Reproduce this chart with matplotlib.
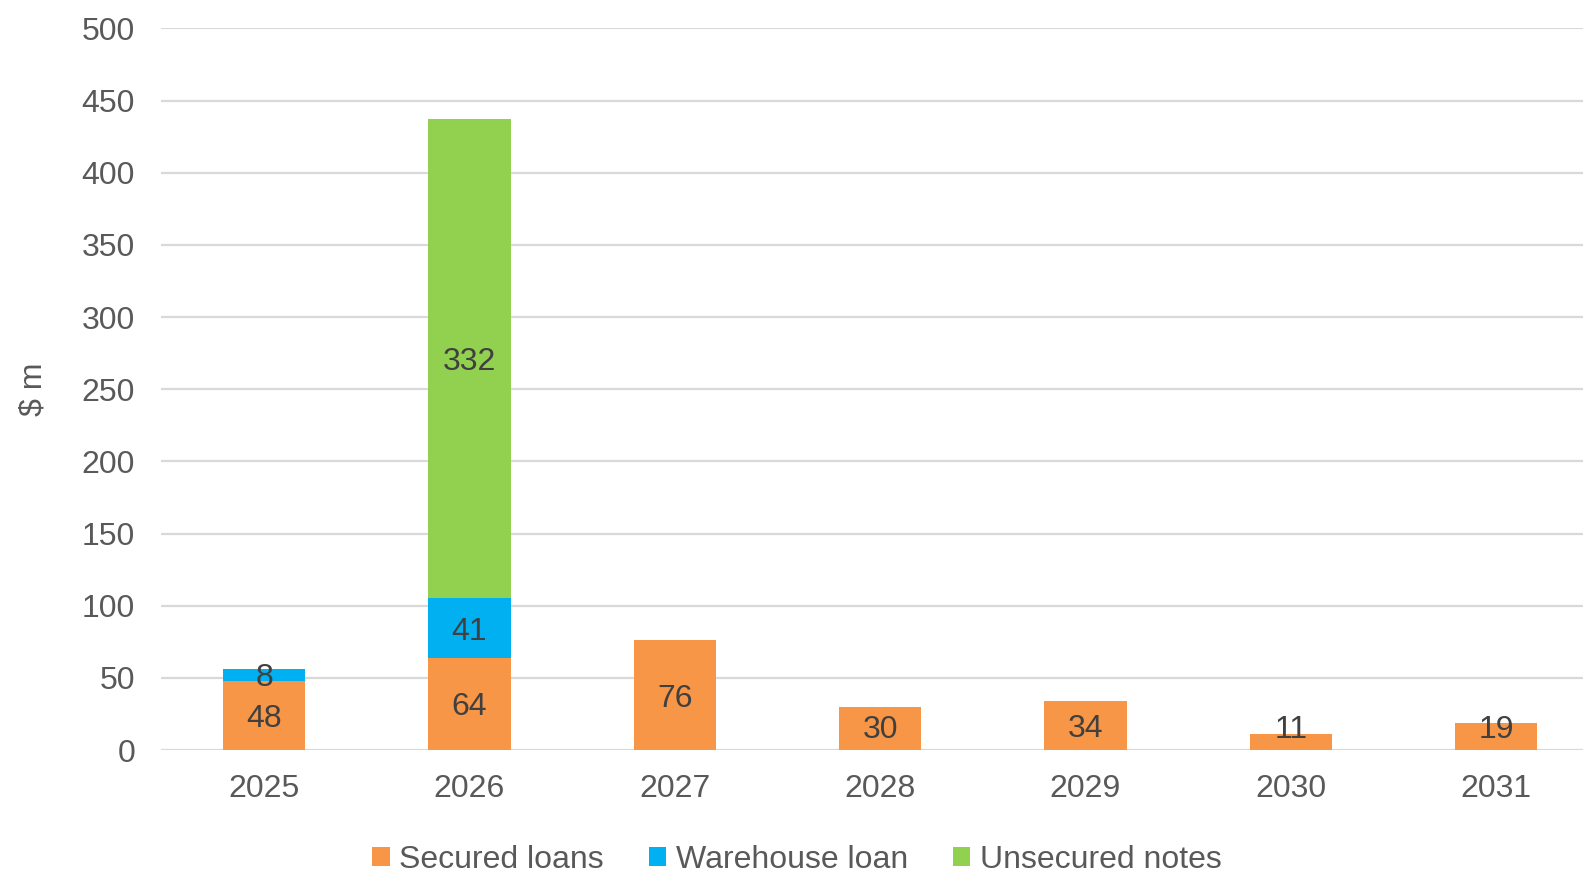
import matplotlib.pyplot as plt
import numpy as np

plt.rcParams['font.family'] = ['Liberation Sans', 'DejaVu Sans']

# data
years = ['2025', '2026', '2027', '2028', '2029', '2030', '2031']
secured = [48, 64, 76, 30, 34, 11, 19]
warehouse = [8, 41, 0, 0, 0, 0, 0]
unsecured = [0, 332, 0, 0, 0, 0, 0]
y_ticks = [0, 50, 100, 150, 200, 250, 300, 350, 400, 450, 500]

colors = ['#F79646', '#00B0F0', '#92D050']
names = ['Secured loans', 'Warehouse loan', 'Unsecured notes']

fig = plt.figure(figsize=(15.83, 8.72), dpi=100)
ax = fig.add_axes([0.1020, 0.1399, 0.9080, 0.8276])

x = np.arange(len(years))
sec = np.array(secured)
war = np.array(warehouse)
uns = np.array(unsecured)

# stack the three series
b1 = ax.bar(x, sec, width=0.4, color=colors[0], label=names[0], zorder=2)
b2 = ax.bar(x, war, width=0.4, bottom=sec, color=colors[1], label=names[1], zorder=2)
b3 = ax.bar(x, uns, width=0.4, bottom=sec + war, color=colors[2], label=names[2], zorder=2)

# value labels in the middle of each segment, kept clear of the baseline
for vals, base in [(sec, 0), (war, sec), (uns, sec + war)]:
    mids = np.maximum(base + vals / 2.0, 16)
    for xi, v, m in zip(x, vals, mids):
        if v > 0:
            ax.text(xi, m, str(v), ha='center', va='center_baseline',
                    fontsize=23, color='#404040', zorder=3)

ax.set_xlim(-0.5, 6.5)
ax.set_ylim(0, 500)
ax.set_yticks(y_ticks)
ax.set_xticks(x)
ax.set_xticklabels(years)
ax.tick_params(axis='both', length=0, labelsize=23, labelcolor='#595959')
ax.tick_params(axis='x', pad=17)
ax.tick_params(axis='y', pad=19)
ax.grid(axis='y', color='#D9D9D9', linewidth=1.6, zorder=0)
ax.set_axisbelow(True)
for side in ['top', 'right', 'left', 'bottom']:
    ax.spines[side].set_visible(False)
ax.axhline(0, color='#D9D9D9', linewidth=2, zorder=1)

ax.set_ylabel('$ m', fontsize=23, color='#595959', labelpad=24)

fig.legend(handles=[b1, b2, b3], labels=names, loc='lower center',
           bbox_to_anchor=(0.5035, -0.036), ncol=3, frameon=False, fontsize=23,
           labelcolor='#595959', handlelength=0.55, handleheight=0.55,
           handletextpad=0.3, columnspacing=1.4)

plt.savefig('out.png', dpi=100)
